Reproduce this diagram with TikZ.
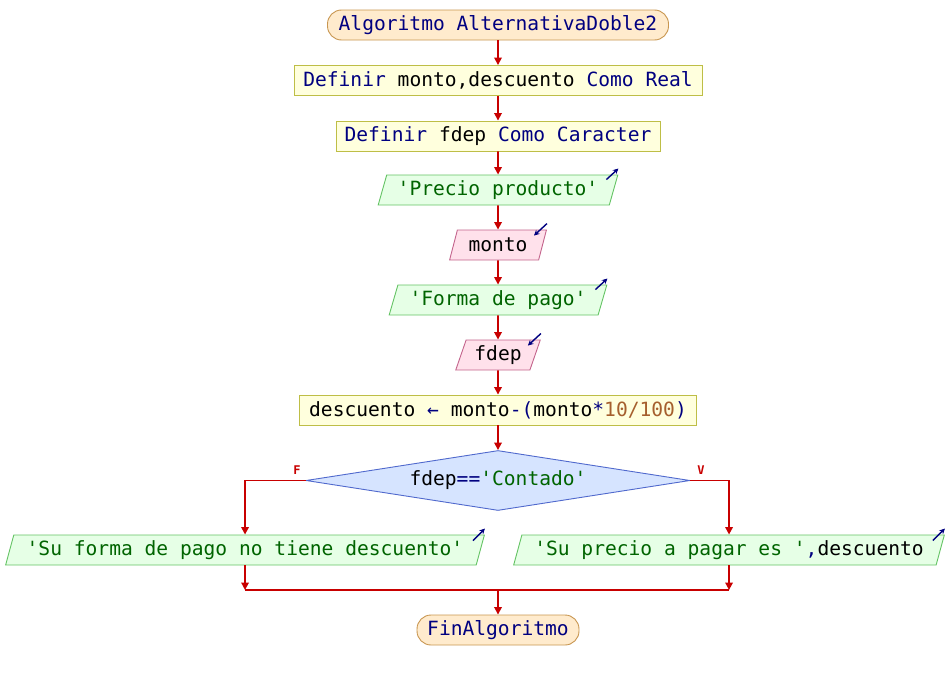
\documentclass[tikz,border=0pt]{standalone}
\usepackage{fontspec}
\setmainfont{DejaVu Sans Mono}[Ligatures=ResetAll]
\usetikzlibrary{shapes.geometric,arrows.meta,calc}
\definecolor{kwc}{RGB}{0,0,128}
\definecolor{strc}{RGB}{0,100,0}
\definecolor{numc}{RGB}{165,95,45}
\definecolor{arrc}{RGB}{200,0,0}
\definecolor{termfill}{RGB}{255,235,205}
\definecolor{termdraw}{RGB}{200,150,80}
\definecolor{procfill}{RGB}{255,255,221}
\definecolor{procdraw}{RGB}{190,190,70}
\definecolor{outfill}{RGB}{230,255,230}
\definecolor{outdraw}{RGB}{100,195,100}
\definecolor{infill}{RGB}{255,225,235}
\definecolor{indraw}{RGB}{195,100,140}
\definecolor{decfill}{RGB}{214,228,255}
\definecolor{decdraw}{RGB}{80,105,205}
\newcommand\pkw[1]{\textcolor{kwc}{#1}}
\newcommand\pstr[1]{\textcolor{strc}{#1}}
\newcommand\pnum[1]{\textcolor{numc}{#1}}
\newcommand\pq{\textquotesingle}
\begin{document}
\begin{tikzpicture}[x=1pt,y=-1pt,
  font=\fontsize{19.6}{22}\selectfont,
  base/.style={inner sep=0pt, minimum height=30pt, line width=0.9pt},
  term/.style={base, rectangle, rounded corners=14pt, fill=termfill, draw=termdraw},
  proc/.style={base, rectangle, fill=procfill, draw=procdraw},
  para/.style={base, trapezium, trapezium left angle=68, trapezium right angle=112, trapezium stretches=true},
  outp/.style={para, fill=outfill, draw=outdraw},
  inp/.style={para, fill=infill, draw=indraw},
  dec/.style={diamond, aspect=6.4, inner sep=0pt, minimum width=384pt, minimum height=60pt, fill=decfill, draw=decdraw, line width=0.9pt},
  arr/.style={draw=arrc, line width=1.7pt, -{Triangle[length=7.5pt,width=7.5pt]}},
  ln/.style={draw=arrc, line width=1.7pt},
  icon/.style={draw=kwc, line width=1.4pt, -{Stealth[length=5.5pt,width=5.5pt]}},
  lab/.style={text=arrc, font=\fontsize{12}{14}\selectfont\bfseries}
]
\useasboundingbox (0,0) rectangle (948,680);

\node[term, minimum width=341pt] (start) at (498,25) {\pkw{Algoritmo AlternativaDoble2}};
\node[proc, minimum width=408pt] (b1) at (498,80.5) {\pkw{Definir} monto,descuento \pkw{Como Real}};
\node[proc, minimum width=324pt] (b2) at (498,136) {\pkw{Definir} fdep \pkw{Como Caracter}};
\node[outp, minimum width=240pt] (p1) at (498,190) {\pstr{\pq Precio producto\pq}};
\node[inp, minimum width=97pt] (p2) at (498,245) {monto};
\node[outp, minimum width=218pt] (p3) at (498,300) {\pstr{\pq Forma de pago\pq}};
\node[inp, minimum width=85pt] (p4) at (498,355) {fdep};
\node[proc, minimum width=397pt] (b3) at (498,410) {descuento \pkw{←} monto\pkw{-(}monto\pkw{*}\pnum{10/100}\pkw{)}};
\node[dec] (d) at (498,480.5) {fdep\pkw{==}\pstr{\pq Contado\pq}};
\node[outp, minimum width=482pt] (pL) at (245,550) {\pstr{\pq Su forma de pago no tiene descuento\pq}};
\node[outp, minimum width=433pt] (pR) at (729,550) {\pstr{\pq Su precio a pagar es \pq}\pkw{,}descuento};
\node[term, minimum width=162pt] (fin) at (498,630) {\pkw{FinAlgoritmo}};

\node[lab] (lf) at (297,470) {F};
\node[lab] (lv) at (701,470) {V};

\coordinate (join) at (498,590);

\draw[arr] (start.south) -- (b1.north);
\draw[arr] (b1.south) -- (b2.north);
\draw[arr] (b2.south) -- (p1.north);
\draw[arr] (p1.south) -- (p2.north);
\draw[arr] (p2.south) -- (p3.north);
\draw[arr] (p3.south) -- (p4.north);
\draw[arr] (p4.south) -- (b3.north);
\draw[arr] (b3.south) -- (d.north);
\draw[arr] (d.west) -| (pL.north);
\draw[arr] (d.east) -| (pR.north);
\draw[arr] (pL.south) -- (pL.south |- join);
\draw[arr] (pR.south) -- (pR.south |- join);
\draw[ln] (pL.south |- join) -- (pR.south |- join);
\draw[arr] (join) -- (fin.north);

\draw[icon] ($(p1.top right corner)+(-12,5)$) -- ($(p1.top right corner)+(0,-6)$);
\draw[icon] ($(p3.top right corner)+(-12,5)$) -- ($(p3.top right corner)+(0,-6)$);
\draw[icon] ($(pL.top right corner)+(-12,6)$) -- ($(pL.top right corner)+(0,-6)$);
\draw[icon] ($(pR.top right corner)+(-12,6)$) -- ($(pR.top right corner)+(0,-6)$);
\draw[icon] ($(p2.top right corner)+(0,-6)$) -- ($(p2.top right corner)+(-13,6)$);
\draw[icon] ($(p4.top right corner)+(0,-6)$) -- ($(p4.top right corner)+(-13,6)$);
\end{tikzpicture}
\end{document}
